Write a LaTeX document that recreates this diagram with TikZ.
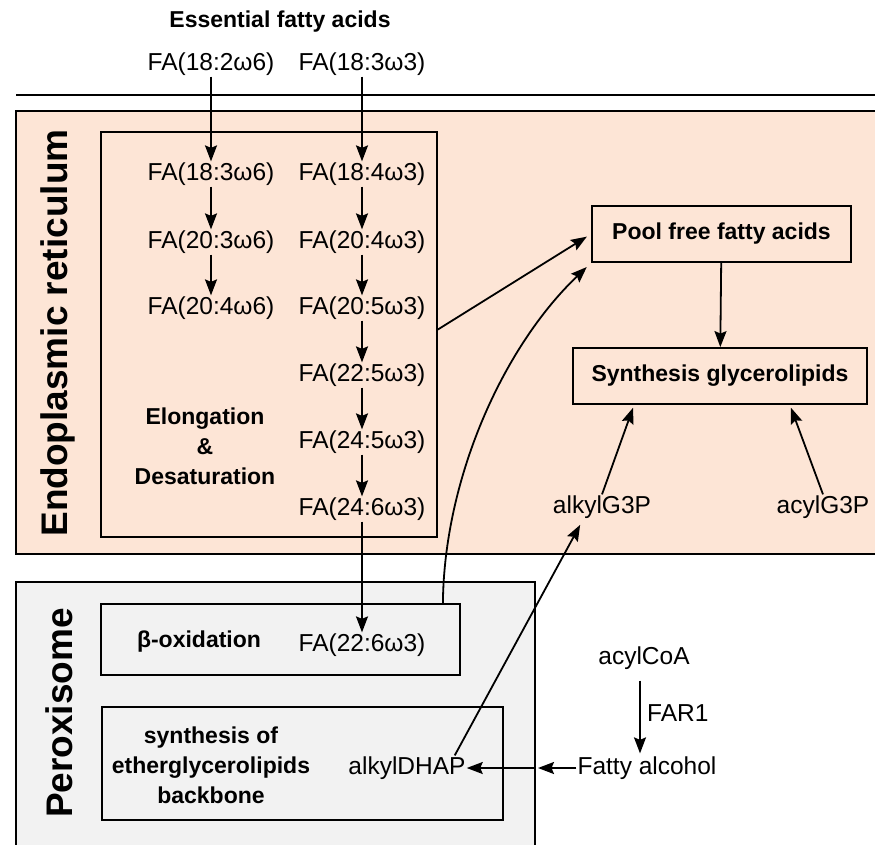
\documentclass[tikz,border=0pt]{standalone}
\usepackage{fontspec}
\setmainfont{Liberation Sans}
\definecolor{erpeach}{RGB}{253,229,214}
\definecolor{perogray}{RGB}{242,242,242}
\usetikzlibrary{arrows.meta,positioning,calc}

\begin{document}
\begin{tikzpicture}[x=1pt,y=-1pt,
    fa/.style={font=\fontsize{24.5}{28}\selectfont, inner sep=1pt},
    lbl/.style={font=\fontsize{23}{30}\selectfont\bfseries, align=center, inner sep=1pt},
    compartment/.style={font=\fontsize{37}{40}\selectfont\bfseries, rotate=90},
    frame/.style={draw, line width=1.8pt},
    flow/.style={-{Stealth[length=16pt,width=12pt,inset=2.5pt]}, line width=1.8pt}]
    \clip (0,0) rectangle (875,845);

    % Compartments
    \draw[line width=1.8pt] (16,95) -- (880,95);
    \draw[frame, fill=erpeach] (16,111) rectangle (890,554);
    \draw[frame, fill=perogray] (16,582) rectangle (535,870);
    \node[compartment] (er) at (58,333) {Endoplasmic reticulum};
    \node[compartment] (px) at (59,713) {Peroxisome};

    % Boxes
    \node[frame, minimum width=336, minimum height=405] (elong) at (269,334.5) {};
    \node[frame, minimum width=359, minimum height=71] (beta) at (280.5,639.5) {};
    \node[frame, minimum width=401, minimum height=113] (ether) at (302.5,763.5) {};
    \node[frame, lbl, minimum width=259, minimum height=56] (pool) at (721.5,234) {Pool free fatty acids};
    \node[frame, lbl, minimum width=294, minimum height=56] (synth) at (720,376) {Synthesis glycerolipids};

    % Essential fatty acids
    \node[lbl] (efa) at (280,22) {Essential fatty acids};
    \node[fa] (fa182) at (211,64) {FA(18:2ω6)};
    \node[fa] (fa183) at (362,64) {FA(18:3ω3)};

    % omega-6 column
    \node[fa] (fa183w6) at (211,174) {FA(18:3ω6)};
    \node[fa] (fa203w6) at (211,242) {FA(20:3ω6)};
    \node[fa] (fa204w6) at (211,308) {FA(20:4ω6)};

    % omega-3 column
    \node[fa] (fa184) at (362,174) {FA(18:4ω3)};
    \node[fa] (fa204) at (362,242) {FA(20:4ω3)};
    \node[fa] (fa205) at (362,308) {FA(20:5ω3)};
    \node[fa] (fa225) at (362,375) {FA(22:5ω3)};
    \node[fa] (fa245) at (362,442) {FA(24:5ω3)};
    \node[fa] (fa246) at (362,509) {FA(24:6ω3)};
    \node[fa] (fa226) at (362,645) {FA(22:6ω3)};

    \node[lbl] (elongtxt) at (205,446) {Elongation\\\&\\Desaturation};
    \node[lbl] (betatxt) at (199,642) {β-oxidation};
    \node[lbl] (ethertxt) at (211,765) {synthesis of\\etherglycerolipids\\backbone};

    % Precursors
    \node[fa] (dhap) at (407,768) {alkylDHAP};
    \node[fa] (alkylg) at (602,507) {alkylG3P};
    \node[fa] (acylg) at (823,507) {acylG3P};
    \node[fa] (acylcoa) at (644,658) {acylCoA};
    \node[fa] (fattyalc) at (647,768) {Fatty alcohol};
    \node[fa, anchor=west] (far) at (646,713) {FAR1};
    \coordinate (gate) at (535,768);

    % Arrows
    \draw[flow] (fa182) -- (fa183w6);
    \draw[flow] (fa183w6) -- (fa203w6);
    \draw[flow] (fa203w6) -- (fa204w6);
    \draw[flow] (fa183) -- (fa184);
    \draw[flow] (fa184) -- (fa204);
    \draw[flow] (fa204) -- (fa205);
    \draw[flow] (fa205) -- (fa225);
    \draw[flow] (fa225) -- (fa245);
    \draw[flow] (fa245) -- (fa246);
    \draw[flow] (fa246) -- (fa226);

    \draw[flow, shorten >=5pt] ([yshift=5pt]elong.east) -- (pool.west);
    \draw[flow, shorten >=6pt] ([xshift=-18pt]beta.north east) .. controls (444,480) and (502,348) .. (pool.south west);
    \draw[flow] (pool) -- (synth);
    \draw[flow, shorten >=3pt] (alkylg.north) -- ([xshift=62pt]synth.south west);
    \draw[flow, shorten >=3pt] (acylg.north) -- ([xshift=-78pt]synth.south east);
    \draw[flow, shorten >=6pt] ([xshift=-12pt]dhap.north east) -- ([xshift=-19pt]alkylg.south);
    \draw[flow, shorten <=10pt, shorten >=2pt] ([xshift=-4pt]acylcoa.south) -- ([xshift=-4pt]acylcoa.south |- fattyalc.north);
    \draw[flow, shorten >=3pt] (fattyalc.west) -- (gate);
    \draw[flow] (gate) -- (dhap.east);
\end{tikzpicture}
\end{document}
